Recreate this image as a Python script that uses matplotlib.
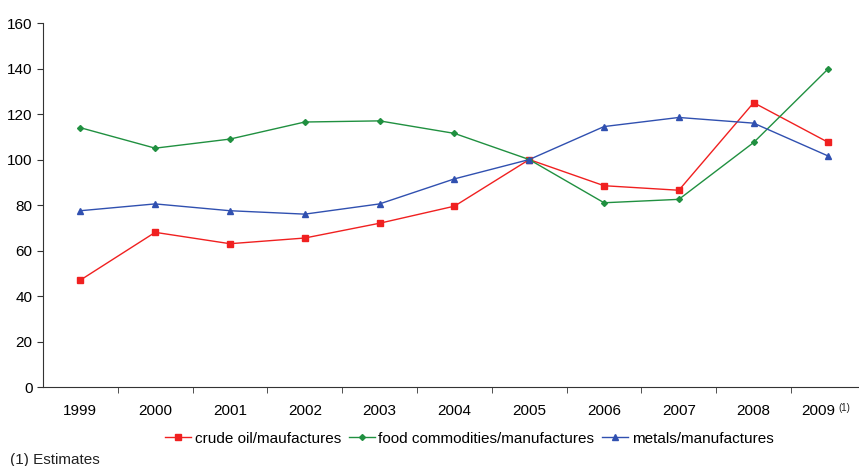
import matplotlib
matplotlib.use('Agg')
import matplotlib.pyplot as plt
import matplotlib.transforms as mtransforms
import numpy as np

years = ['1999', '2000', '2001', '2002', '2003', '2004', '2005', '2006', '2007', '2008', '2009']
crude_oil = [47, 68, 63, 65.5, 72, 79.5, 100, 88.5, 86.5, 125, 107.5]
food = [114, 105, 109, 116.5, 117, 111.5, 100, 81, 82.5, 107.5, 140]
metals = [77.5, 80.5, 77.5, 76, 80.5, 91.5, 100, 114.5, 118.5, 116, 101.5]

plt.rcParams['font.family'] = ['Liberation Sans', 'DejaVu Sans']

fig = plt.figure(figsize=(8.59, 4.66), dpi=100)
ax = fig.add_axes([0.05, 0.1695, 0.958, 0.781])

x = np.arange(len(years))
ax.plot(x, crude_oil, color='#f02020', marker='s', markersize=5, linewidth=1,
        label='crude oil/maufactures')
ax.plot(x, food, color='#209040', marker='D', markersize=3, linewidth=1,
        label='food commodities/manufactures')
ax.plot(x, metals, color='#3050b0', marker='^', markersize=5, linewidth=1,
        label='metals/manufactures')

ax.set_xlim(-0.5, len(years) - 0.5)
ax.set_ylim(0, 160)
ax.set_yticks(range(0, 161, 20))
ax.tick_params(axis='y', labelsize=11, length=4, color='#333333')

# category labels centred, tick marks between categories
ax.set_xticks(x)
ax.set_xticklabels(years, fontsize=11)
ax.tick_params(axis='x', length=0, pad=12)
ax.set_xticks(np.arange(0.5, len(years) - 0.5, 1), minor=True)
ax.tick_params(axis='x', which='minor', length=4, color='#333333')

# footnote marker on the last year
last = ax.get_xticklabels()[-1]
last.set_transform(last.get_transform() +
                   mtransforms.ScaledTranslation(-7 / 72, 0, fig.dpi_scale_trans))
ax.annotate('(1)', xy=(len(years) - 1, 0), xycoords=('data', 'axes fraction'),
            xytext=(7, -11.5), textcoords='offset points', fontsize=7,
            ha='left', va='top', color='#222222')

for s in ['top', 'right']:
    ax.spines[s].set_visible(False)
for s in ['left', 'bottom']:
    ax.spines[s].set_color('#333333')

ax.legend(loc='upper center', bbox_to_anchor=(0.518, -0.085), ncol=3, frameon=False,
          fontsize=11, handlelength=1.7, handletextpad=0.25, columnspacing=0.5)

fig.text(0.012, 0.005, '(1) Estimates', fontsize=11, color='#222222')

fig.savefig('out.png', dpi=100)
